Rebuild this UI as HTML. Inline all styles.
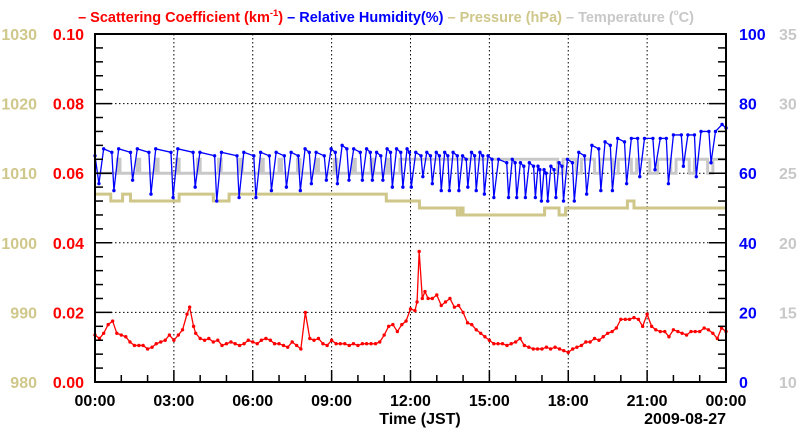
<!DOCTYPE html>
<html><head><meta charset="utf-8"><style>
html,body{margin:0;padding:0;background:#fff;width:800px;height:434px;overflow:hidden}
svg{display:block;font-family:"Liberation Sans",Arial,sans-serif;font-weight:bold}
</style></head><body>
<svg id="chart" width="800" height="434" viewBox="0 0 800 434">
<text x="386" y="22" text-anchor="middle" font-size="14.5"><tspan fill="#ff0000">– Scattering Coefficient (km<tspan dy="-6" font-size="9.5">-1</tspan><tspan dy="6">)</tspan></tspan><tspan fill="#0000ff"> – Relative Humidity(%)</tspan><tspan fill="#d0c78a"> – Pressure (hPa)</tspan><tspan fill="#c8c8c8"> – Temperature (<tspan dy="-7" font-size="8">o</tspan><tspan dy="7">C)</tspan></tspan></text>
<g id="grid"></g>
<g id="series"></g>
<g id="axes"></g>
</svg>
<script>
const xTicks=["00:00","03:00","06:00","09:00","12:00","15:00","18:00","21:00","00:00"];
const scatTicks=["0.00","0.02","0.04","0.06","0.08","0.10"];
const presTicks=["980","990","1000","1010","1020","1030"];
const rhTicks=["0","20","40","60","80","100"];
const tempTicks=["10","15","20","25","30","35"];
const scatT=[0,0.17,0.33,0.5,0.67,0.83,1,1.17,1.33,1.5,1.67,1.83,2,2.17,2.33,2.5,2.67,2.83,3,3.17,3.33,3.5,3.6,3.75,3.83,4,4.17,4.33,4.5,4.67,4.83,5,5.17,5.33,5.5,5.67,5.83,6,6.17,6.33,6.5,6.67,6.83,7,7.17,7.33,7.5,7.67,7.83,8,8.17,8.33,8.5,8.67,8.83,9,9.17,9.33,9.5,9.67,9.83,10,10.17,10.33,10.5,10.67,10.83,11,11.17,11.33,11.5,11.67,11.83,12,12.17,12.25,12.33,12.45,12.55,12.67,12.83,13,13.17,13.33,13.5,13.67,13.83,14,14.17,14.33,14.5,14.67,14.83,15,15.17,15.33,15.5,15.67,15.83,16,16.17,16.33,16.5,16.67,16.83,17,17.17,17.33,17.5,17.67,17.83,18,18.17,18.33,18.5,18.67,18.83,19,19.17,19.33,19.5,19.67,19.83,20,20.17,20.33,20.5,20.67,20.83,21,21.17,21.33,21.5,21.67,21.83,22,22.17,22.33,22.5,22.67,22.83,23,23.17,23.33,23.5,23.67,23.83,24];
const scatV=[13.5,12.5,14,16.5,17.5,14,13.5,13,11.5,10.5,10.5,10.5,9.5,10,11,11.5,12,13.5,12,13.5,15,19.5,21.5,16,14,12.5,12,12.5,11.5,12,10.5,11,11.5,11,10.5,11,12,11.5,11,12,12.5,12,11,11,10.5,10,11.5,10.5,9.5,20,12.5,12,12.5,11,10.5,12,11,11,11,10.5,11,10.5,11,11,11,11,11.5,13.5,16,16.5,14.5,16.5,17.5,21,20.5,23,37.5,24,26,24,24,25,22,23,24,21.5,22,20,17,16.5,15,14,13,12,11,11,11,10.5,11,11.5,12.5,10.5,10,9.5,9.5,9.5,10,9.5,10,9.5,9,8.5,9.5,10,10.5,11.5,11.5,12.5,12,13,14,14.5,15.5,18,18,18,18.5,18,16,19.5,16,15,14.5,14.5,13,15,14.5,14,13.5,14.5,14.5,14.5,15.5,15,14,12.5,15.5,14.5];
const rhT=[0,0.15,0.33,0.64,0.72,0.9,1.35,1.43,1.61,2.05,2.13,2.31,2.89,2.97,3.15,3.73,3.81,3.99,4.55,4.63,4.81,5.4,5.48,5.66,6.04,6.12,6.3,6.63,6.71,6.89,7.2,7.28,7.46,7.73,7.81,7.99,8.15,8.23,8.41,8.72,8.8,8.98,9.14,9.22,9.4,9.58,9.66,9.84,10.09,10.17,10.33,10.47,10.55,10.71,10.87,10.95,11.11,11.24,11.31,11.47,11.63,11.71,11.87,11.96,12.03,12.2,12.4,12.47,12.62,12.76,12.83,12.98,13.1,13.17,13.3,13.42,13.48,13.62,13.78,13.84,13.98,14.12,14.18,14.32,14.44,14.5,14.64,14.75,14.81,14.95,15.1,15.17,15.35,15.66,15.73,15.87,15.98,16.04,16.18,16.31,16.37,16.52,16.68,16.75,16.85,16.92,16.98,17.08,17.16,17.22,17.34,17.46,17.53,17.65,17.76,17.82,17.97,18.16,18.23,18.4,18.62,18.7,18.9,19.16,19.24,19.4,19.6,19.68,19.88,20.14,20.22,20.4,20.64,20.72,20.9,21.22,21.3,21.5,21.73,21.81,22,22.3,22.38,22.55,22.8,22.87,23.05,23.35,23.43,23.6,23.85,24];
const rhV=[65,57,67,66,55,67,66,58,67,66,54,67,66,53,67,66,56,66,65,52,66,65,53,66,65,53,66,65,55,66,65,56,66,65,55,67,66,57,66,65,58,67,66,57,68,67,58,67,66,58,67,66,58,66,65,58,67,66,56,67,66,56,67,66,56,66,65,59,66,65,57,66,65,55,66,65,55,66,65,55,65,64,56,66,65,55,66,65,54,65,64,53,64,63,53,64,63,53,63,62,53,63,62,53,62,61,52,61,60,52,62,61,53,63,62,52,64,63,52,66,65,54,68,67,55,69,68,55,70,69,57,70,70,59,70,70,61,70,70,57,71,71,62,71,71,59,72,72,63,72,74,73];
const presT=[0,0.6,1.05,1.35,3.2,4.5,5.1,11.08,12.34,13.78,13.9,14.0,17.1,17.65,17.9,20.25,20.5,24];
const presV=[1007,1006,1007,1006,1007,1006,1007,1006,1005,1004,1005,1004,1005,1004,1005,1006,1005,1005];
const tempT=[0,0.85,0.95,1.6,1.7,2.3,2.4,3.1,3.2,3.9,4.0,4.7,4.8,5.5,5.6,6.3,6.4,7.0,7.1,7.7,7.8,8.4,8.5,9.1,9.2,9.8,9.9,10.5,10.6,11.1,11.2,11.6,17.6,17.8,18.3,18.5,19.0,19.2,19.7,19.9,20.4,20.6,21.1,21.4,21.9,22.1,22.6,22.8,23.3,23.5,24];
const tempV=[25,26,25,26,25,26,25,26,25,26,25,26,25,26,25,26,25,26,25,26,25,26,25,26,25,26,25,26,25,26,25,26,25,26,25,26,25,26,25,26,25,26,25,26,25,26,25,26,25,26,26];

const L=95,R=726,T=34,B=382,NS="http://www.w3.org/2000/svg";
const xS=h=>L+(R-L)*h/24;
const yScat=v=>B-(B-T)*v/100;
const yRH=v=>B-(B-T)*v/100;
const yPres=v=>B-(B-T)*(v-980)/50;
const yTemp=v=>B-(B-T)*(v-10)/25;
function mk(tag,attrs,parent){const e=document.createElementNS(NS,tag);for(const k in attrs)e.setAttribute(k,attrs[k]);parent.appendChild(e);return e;}
const grid=document.getElementById('grid'),ser=document.getElementById('series'),ax=document.getElementById('axes');
for(let i=1;i<8;i++){const gl=mk('line',{x1:xS(i*3),x2:xS(i*3),y1:T,y2:B,stroke:'#000','stroke-width':1,'stroke-dasharray':'1.5,2.5'},grid);

}
for(let i=1;i<5;i++){const y=B-(B-T)*i/5;const gl=mk('line',{x1:L,x2:R,y1:y,y2:y,stroke:'#000','stroke-width':1,'stroke-dasharray':'1.5,2.5'},grid);

}
function stepPts(ts,vs,yf){let p=[];for(let i=0;i<ts.length;i++){if(i>0)p.push(xS(ts[i])+','+yf(vs[i-1]));p.push(xS(ts[i])+','+yf(vs[i]));}return p.join(' ');}
const tl=mk('polyline',{points:stepPts(tempT,tempV,yTemp),fill:'none',stroke:'#c8c8c8','stroke-width':3},ser);


const pl=mk('polyline',{points:stepPts(presT,presV,yPres),fill:'none',stroke:'#cfc68a','stroke-width':3},ser);


function line(ts,vs,yf,col,name){
 const g=mk('g',{},ser);
 
 
 mk('polyline',{points:ts.map((t,i)=>xS(t)+','+yf(vs[i])).join(' '),fill:'none',stroke:col,'stroke-width':1.3},g);
 ts.forEach((t,i)=>{const c=mk('circle',{cx:xS(t),cy:yf(vs[i]),r:1.7,fill:col},g);
 
 });
}
line(rhT,rhV,yRH,'#0000ff','humidity-series');
line(scatT,scatV,yScat,'#ff0000','scattering-series');
const fr=mk('rect',{x:L,y:T,width:R-L,height:B-T,fill:'none',stroke:'#000','stroke-width':2},ax);


for(let i=0;i<=25;i++){const y=B-(B-T)*i/25;const major=i%5===0;const len=major?17:8;
 mk('line',{x1:L,x2:L+len,y1:y,y2:y,stroke:'#000','stroke-width':1.5},ax);
 mk('line',{x1:R,x2:R-len,y1:y,y2:y,stroke:'#000','stroke-width':1.5},ax);}
for(let h=0;h<=24;h++){const major=h%3===0;const len=major?12:7;
 mk('line',{x1:xS(h),x2:xS(h),y1:B,y2:B-len,stroke:'#000','stroke-width':1.5},ax);}
function txt(s,x,y,anchor,col,size,name){const t=mk('text',{x:x,y:y,'text-anchor':anchor,fill:col,'font-size':size},ax);t.textContent=s;
 
 return t;}
for(let i=0;i<6;i++){const y=B-(B-T)*i/5+6;
 txt(presTicks[i],37,y,'end','#d0c78a',16,'pressure-tick-label');
 txt(scatTicks[i],84,y,'end','#ff0000',16,'scattering-tick-label');
 txt(rhTicks[i],739,y,'start','#0000ff',16,'humidity-tick-label');
 txt(tempTicks[i],779,y,'start','#c8c8c8',16,'temperature-tick-label');}
xTicks.forEach((s,i)=>txt(s,xS(i*3),406,'middle','#000',16,'x-tick-label'));
txt('Time (JST)',420,424,'middle','#000',16,'x-axis-title');
txt('2009-08-27',R,424,'end','#000',16,'date-label');
</script>
</body></html>
